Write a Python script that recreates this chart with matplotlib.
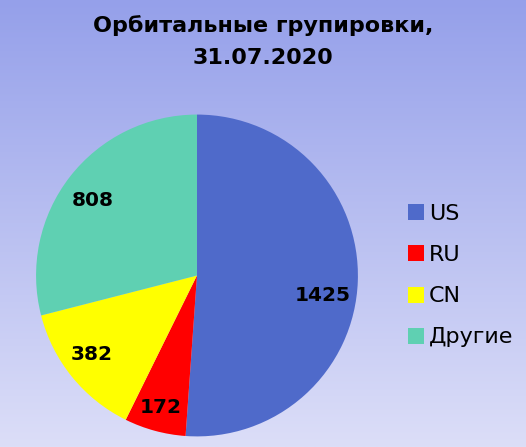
import numpy as np
import matplotlib.pyplot as plt
from matplotlib.lines import Line2D

# Данные
categories = ['US', 'RU', 'CN', 'Другие']
values = [1425, 172, 382, 808]
colors = ['#4F6ACA', '#FF0000', '#FFFF00', '#5FD0B2']

fig = plt.figure(figsize=(5.26, 4.47), dpi=100)

# Фон с градиентом
bg = fig.add_axes([0, 0, 1, 1], zorder=-1)
grad = np.linspace(0, 1, 256).reshape(-1, 1)
top = np.array([0x95, 0xA0, 0xEA]) / 255
bottom = np.array([0xDC, 0xDE, 0xF8]) / 255
img = top + (bottom - top) * grad[:, :, None]
bg.imshow(img, aspect='auto', extent=[0, 1, 0, 1])
bg.axis('off')

# Круговая диаграмма
ax = fig.add_axes([0.3745 - 0.306, 0.3837 - 0.36, 0.612, 0.72])
wedges, texts, autotexts = ax.pie(
    values, colors=colors, startangle=90, counterclock=False,
    autopct=lambda p: '{:.0f}'.format(p * sum(values) / 100),
    pctdistance=0.8, wedgeprops=dict(linewidth=0))

# Подписи немного сдвинуты, как в Excel
shift = [(-7, 0.79), (0, 0.85), (-2, 0.82), (2, 0.80)]
for w, t, (da, r) in zip(wedges, autotexts, shift):
    ang = np.deg2rad((w.theta1 + w.theta2) / 2 + da)
    t.set_position((r * np.cos(ang), r * np.sin(ang)))
    t.set_fontsize(14.5)
    t.set_fontweight('bold')
ax.set_xlim(-1, 1)
ax.set_ylim(-1, 1)
ax.set_aspect('equal')

fig.text(0.5, 0.967, 'Орбитальные групировки,\n31.07.2020', ha='center',
         va='top', fontsize=16, fontweight='bold', linespacing=1.75)

handles = [Line2D([], [], marker='s', linestyle='', markersize=11,
                  markerfacecolor=c, markeredgewidth=0) for c in colors]
fig.legend(handles, categories, loc='center left',
           bbox_to_anchor=(0.74, 0.383), frameon=False, fontsize=16,
           handlelength=0.6, handletextpad=0.3, labelspacing=0.95)

fig.savefig('out.png', dpi=100)
